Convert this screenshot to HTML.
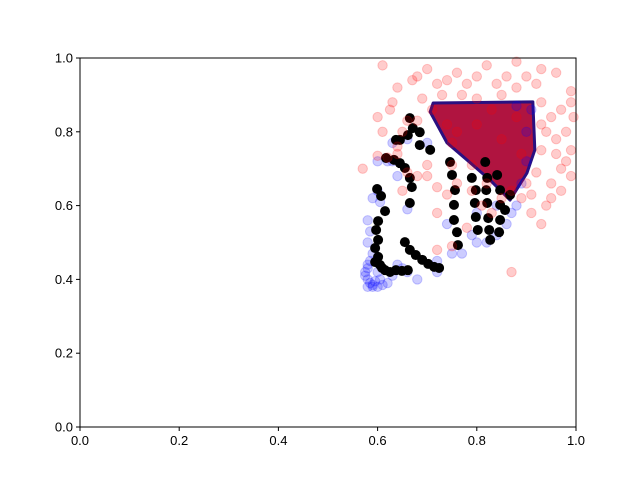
<!DOCTYPE html>
<html><head><meta charset="utf-8"><style>
body{margin:0;background:#fff;}
svg{display:block;font-family:"Liberation Sans","DejaVu Sans",sans-serif;}
</style></head><body>
<svg id="chart" width="640" height="480" xmlns="http://www.w3.org/2000/svg">
<rect width="640" height="480" fill="#fff"/>
<g id="plot"></g>
<g id="axes"></g>
</svg>
<script>
const xTicks=[0,0.2,0.4,0.6,0.8,1.0];
const yTicks=[0,0.2,0.4,0.6,0.8,1.0];
const tickLabels=["0.0","0.2","0.4","0.6","0.8","1.0"];
const denseRegion=[[0.712,0.878],[0.913,0.881],[0.917,0.751],[0.901,0.688],[0.867,0.615],[0.827,0.669],[0.780,0.724],[0.740,0.770],[0.706,0.854]];
const blueX=[0.58,0.585,0.59,0.58,0.575,0.58,0.59,0.60,0.61,0.62,0.575,0.58,0.585,0.59,0.58,0.585,0.58,0.59,0.60,0.605,0.63,0.60,0.64,0.66,0.64,0.66,0.68,0.72,0.75,0.77,0.80,0.79,0.82,0.84,0.86,0.87,0.88,0.70,0.66,0.63,0.62,0.605,0.595,0.6,0.63,0.65,0.72,0.74,0.8,0.84,0.89,0.9,0.9,0.91,0.88];
const blueY=[0.38,0.39,0.38,0.40,0.42,0.44,0.385,0.38,0.385,0.39,0.41,0.43,0.45,0.47,0.50,0.53,0.56,0.62,0.64,0.61,0.72,0.72,0.68,0.59,0.44,0.42,0.40,0.42,0.47,0.47,0.50,0.52,0.50,0.52,0.55,0.58,0.60,0.77,0.78,0.77,0.72,0.40,0.395,0.42,0.41,0.43,0.45,0.55,0.58,0.60,0.66,0.72,0.80,0.86,0.87];
const blackX=[0.599,0.607,0.615,0.601,0.597,0.601,0.595,0.601,0.605,0.615,0.625,0.637,0.649,0.661,0.655,0.665,0.677,0.690,0.702,0.714,0.724,0.617,0.633,0.645,0.655,0.665,0.669,0.665,0.645,0.661,0.671,0.665,0.637,0.685,0.746,0.750,0.756,0.754,0.754,0.760,0.762,0.790,0.798,0.796,0.798,0.802,0.817,0.821,0.819,0.821,0.823,0.825,0.827,0.841,0.847,0.847,0.847,0.845,0.867,0.857,0.595,0.609,0.685,0.706];
const blackY=[0.645,0.626,0.585,0.558,0.534,0.507,0.485,0.461,0.439,0.425,0.420,0.425,0.423,0.425,0.501,0.480,0.466,0.453,0.442,0.434,0.431,0.729,0.724,0.715,0.702,0.675,0.650,0.607,0.778,0.791,0.810,0.837,0.778,0.799,0.718,0.683,0.642,0.602,0.561,0.528,0.493,0.675,0.642,0.607,0.569,0.534,0.718,0.675,0.642,0.607,0.566,0.534,0.507,0.683,0.642,0.602,0.561,0.528,0.629,0.588,0.447,0.431,0.764,0.751];
const redX=[0.61,0.64,0.67,0.68,0.69,0.63,0.625,0.6,0.61,0.64,0.57,0.6,0.62,0.64,0.66,0.68,0.7,0.72,0.74,0.7,0.75,0.65,0.72,0.75,0.79,0.72,0.75,0.78,0.81,0.87,0.91,0.93,0.94,0.95,0.97,0.99,0.98,0.99,0.97,0.96,0.98,0.995,0.97,0.99,0.99,0.96,0.93,0.92,0.9,0.88,0.86,0.84,0.82,0.8,0.78,0.76,0.74,0.72,0.70,0.73,0.77,0.8,0.85,0.88,0.93,0.95,0.94,0.93,0.92,0.9,0.91,0.89,0.87,0.85,0.83,0.93,0.96,0.95,0.71,0.68,0.66,0.65,0.79,0.76,0.82,0.80,0.85,0.88,0.76,0.83,0.89,0.74];
const redY=[0.98,0.92,0.94,0.95,0.89,0.88,0.86,0.84,0.80,0.76,0.70,0.735,0.73,0.74,0.69,0.68,0.68,0.65,0.63,0.71,0.77,0.64,0.58,0.71,0.64,0.48,0.49,0.54,0.60,0.42,0.58,0.55,0.60,0.62,0.64,0.68,0.72,0.75,0.70,0.78,0.80,0.84,0.86,0.88,0.91,0.96,0.97,0.93,0.95,0.92,0.95,0.93,0.98,0.95,0.93,0.96,0.94,0.93,0.97,0.90,0.90,0.89,0.90,0.99,0.88,0.84,0.80,0.75,0.69,0.66,0.63,0.62,0.64,0.62,0.58,0.82,0.74,0.66,0.86,0.83,0.83,0.80,0.71,0.66,0.66,0.82,0.78,0.84,0.80,0.86,0.74,0.82];
const L=80,R=576,T=58,B=427;
const sx=v=>L+v*(R-L), sy=v=>B-v*(B-T);
const NS="http://www.w3.org/2000/svg";
const plot=document.getElementById('plot'), axes=document.getElementById('axes');
function mk(tag,attrs,parent){const e=document.createElementNS(NS,tag);for(const k in attrs)e.setAttribute(k,attrs[k]);parent.appendChild(e);return e;}
const poly=mk('polygon',{points:denseRegion.map(p=>sx(p[0])+','+sy(p[1])).join(' '),fill:'#b01440',stroke:'#2a1080','stroke-width':3,'stroke-linejoin':'round'},plot);


blueX.forEach((x,i)=>{const c=mk('circle',{cx:sx(x),cy:sy(blueY[i]),r:4.7,fill:'rgba(0,0,255,0.2)',stroke:'rgba(0,0,255,0.2)','stroke-width':1},plot);

});
blackX.forEach((x,i)=>{const c=mk('circle',{cx:sx(x),cy:sy(blackY[i]),r:5,fill:'#000'},plot);

});
redX.forEach((x,i)=>{const c=mk('circle',{cx:sx(x),cy:sy(redY[i]),r:4.7,fill:'rgba(255,0,0,0.2)',stroke:'rgba(255,0,0,0.2)','stroke-width':1},plot);

});
const frame=mk('rect',{x:L,y:T,width:R-L,height:B-T,fill:'none',stroke:'#000','stroke-width':1},axes);


xTicks.forEach((v,i)=>{mk('line',{x1:sx(v),x2:sx(v),y1:B,y2:B+4,stroke:'#000'},axes);
const t=mk('text',{x:sx(v),y:B+18,'text-anchor':'middle','font-size':13,fill:'#000'},axes);t.textContent=tickLabels[i];

});
yTicks.forEach((v,i)=>{mk('line',{x1:L-4,x2:L,y1:sy(v),y2:sy(v),stroke:'#000'},axes);
const t=mk('text',{x:L-7,y:sy(v)+4.5,'text-anchor':'end','font-size':13,fill:'#000'},axes);t.textContent=tickLabels[i];

});
</script>
</body></html>
